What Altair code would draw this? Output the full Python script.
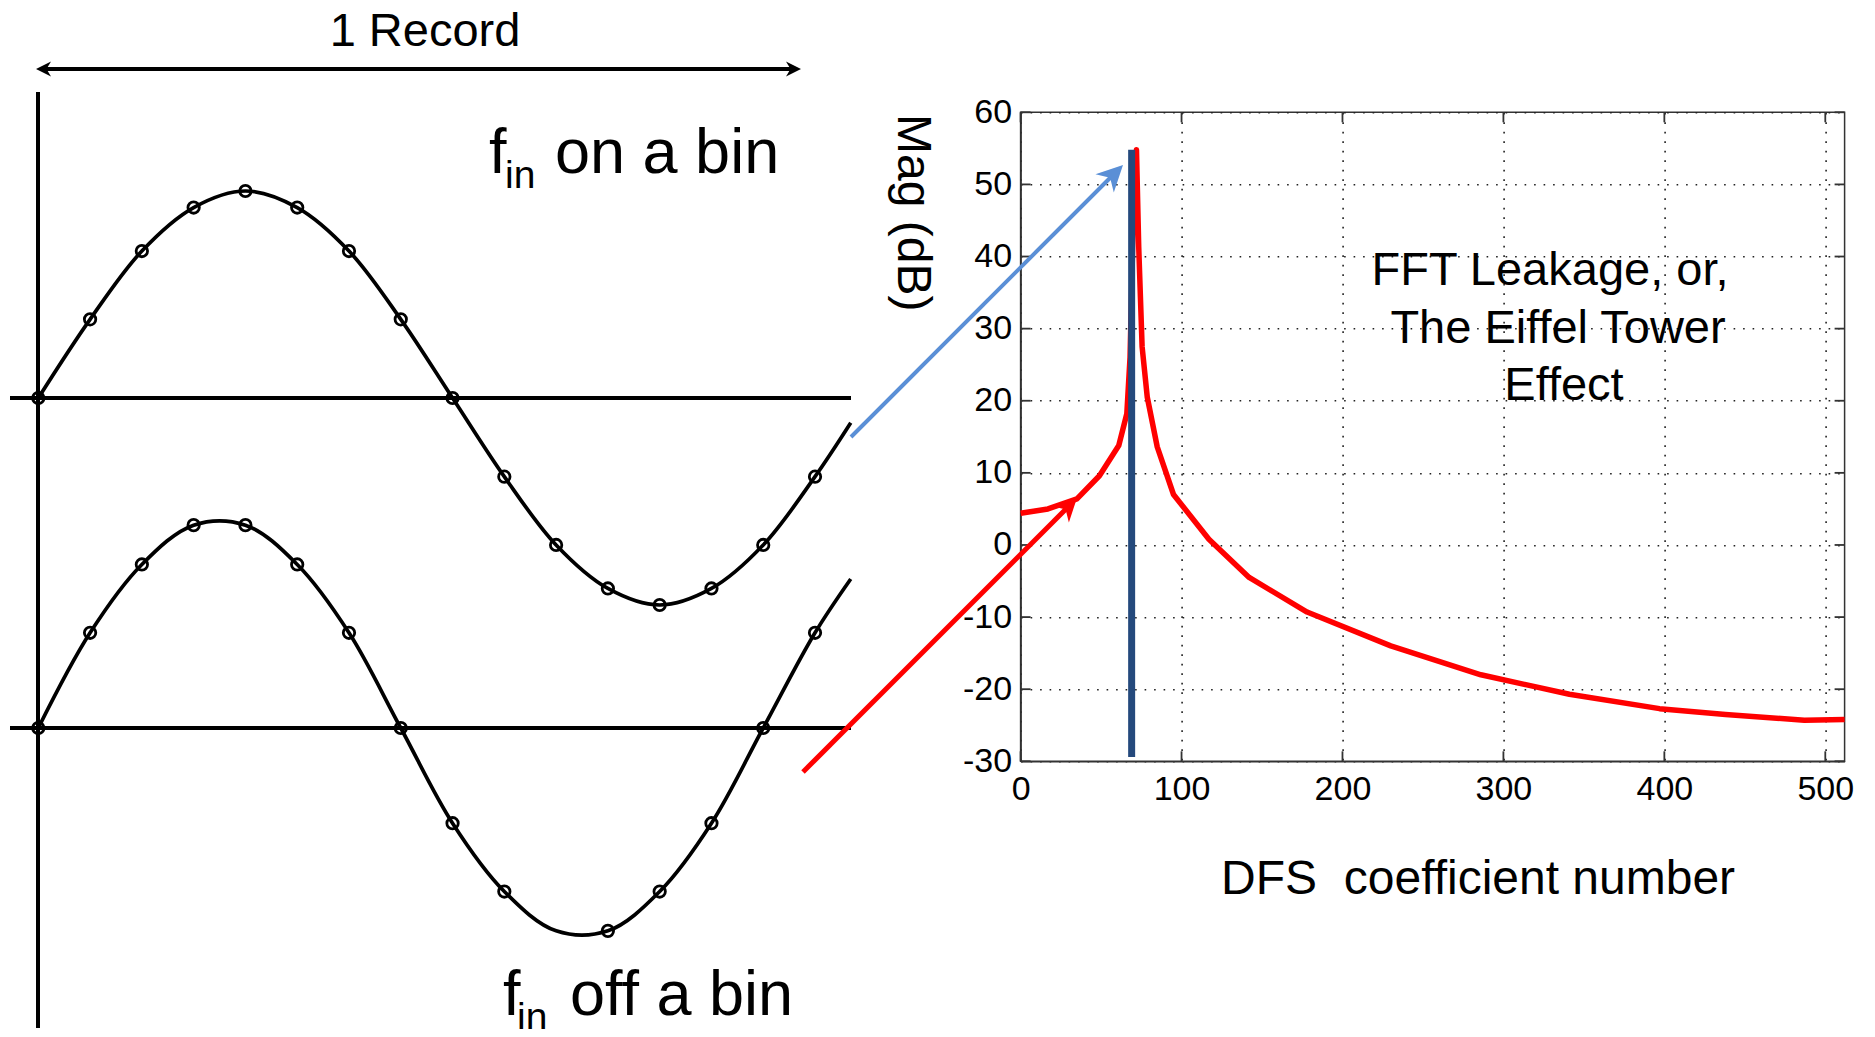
import altair as alt
import pandas as pd

FONT = "Liberation Sans"

# ---------------- right panel: FFT magnitude ----------------
fft_bin = [0, 17, 35, 49, 61, 66, 68, 70, 72, 73.4, 75.5, 78.7, 84.9, 95, 117, 142,
           178, 230, 286, 341, 397, 438, 487, 512]
fft_db = [4.4, 5.0, 6.4, 9.6, 13.8, 18.2, 26, 45, 54.8, 41.3, 27.5, 20.5, 13.6, 7.0, 0.8, -4.5,
          -9.3, -14.0, -18.0, -20.7, -22.7, -23.5, -24.3, -24.2]
bin_line_x = [69]
bin_line_top = [54.8]
bin_line_floor = [-29.4]
x_ticks = [0, 100, 200, 300, 400, 500]
y_ticks = [-30, -20, -10, 0, 10, 20, 30, 40, 50, 60]

# ---------------- left panel: sampled sine waves ----------------
sample_idx = list(range(16))
on_bin = [0, 0.38, 0.71, 0.92, 1.0, 0.92, 0.71, 0.38, 0, -0.38, -0.71, -0.92, -1.0, -0.92, -0.71, -0.38]
off_bin = [0, 0.46, 0.79, 0.98, 0.98, 0.79, 0.46, 0, -0.46, -0.79, -0.98, -0.98, -0.79, -0.46, 0, 0.46]
off_bin_circled = [True] * 10 + [False] + [True] * 5
curve_end_idx = 15.69
on_bin_end = -0.12
off_bin_end = 0.72

# ---------------- annotations (figure pixel units) ----------------
seg_x1 = [38, 10, 10, 44, 851, 803]
seg_y1 = [92, 398, 728, 69, 437, 772]
seg_x2 = [38, 851, 851, 793, 1112, 1068]
seg_y2 = [1028, 398, 728, 69, 176, 507]
seg_color = ["black", "black", "black", "black", "#5a8fd6", "#ff0000"]
seg_width = [4, 4, 4, 4, 4, 5]

head_x = [36, 801, 1123, 1077]
head_y = [69, 69, 165, 498]
head_angle = [270, 90, 45, 45]
head_len = [15, 15, 26, 23]
head_color = ["black", "black", "#5a8fd6", "#ff0000"]

left_text = ["f", "in", "on a bin", "f", "in", "off a bin"]
left_x = [489, 505, 555, 503, 517, 570]
left_y = [173, 188, 173, 1015, 1030, 1015]
left_size = [63, 39, 63, 63, 39, 63]

center_text = ["1 Record", "FFT Leakage, or,", "The Eiffel Tower", "Effect"]
center_x = [425, 1550, 1558, 1564]
center_y = [46, 285, 343, 400]
center_size = [47, 47, 47, 47]

# ---------------- scales ----------------
W, H = 824, 649
X_FFT = alt.Scale(domain=[0, 512], nice=False, zero=False)
Y_FFT = alt.Scale(domain=[-30, 60], nice=False, zero=False)
OV_X = alt.Scale(domain=[0, 1875], range=[-1020.6, 854.4], nice=False, zero=False)
OV_Y = alt.Scale(domain=[0, 1037], range=[-112.3, 924.7], nice=False, zero=False)
SMP_X = alt.Scale(domain=[0, 16], range=[-982.3, -153.8], nice=False, zero=False)
TOP_Y = alt.Scale(domain=[-1, 1], range=[492.7, 78.7], nice=False, zero=False)
BOT_Y = alt.Scale(domain=[-1, 1], range=[822.7, 408.7], nice=False, zero=False)

grid_kw = dict(grid=True, gridDash=[1.6, 7.9], gridColor="#222", gridWidth=1.6,
               ticks=False, domainColor="#333", domainWidth=1.5,
               labelFont=FONT, labelFontSize=34, labelColor="black",
               labelFlush=False, labelOverlap=False, labelExpr="'' + datum.value",
               titleFont=FONT, titleFontSize=48, titleFontWeight="normal",
               titleColor="black", titleBaseline="alphabetic", titleAlign="center")

fft_df = pd.DataFrame({"bin": fft_bin, "db": fft_db})
fft_line = alt.Chart(fft_df).mark_line(color="#ff0000", strokeWidth=5.5, strokeJoin="round").encode(
    x=alt.X("bin:Q", scale=X_FFT,
            axis=alt.Axis(orient="bottom", values=x_ticks, labelPadding=11,
                          title="DFS\u00a0\u00a0coefficient number", titleX=457, titleY=132, **grid_kw)),
    y=alt.Y("db:Q", scale=Y_FFT,
            axis=alt.Axis(orient="left", values=y_ticks, labelPadding=9,
                          title="Mag (dB)", titleAngle=90, titleX=-123, titleY=100, **grid_kw)),
)

bar_df = pd.DataFrame({"bin": bin_line_x, "top": bin_line_top, "floor": bin_line_floor})
bin_bar = alt.Chart(bar_df).mark_rule(color="#24497c", strokeWidth=7).encode(
    x=alt.X("bin:Q", scale=X_FFT, axis=None),
    y=alt.Y("top:Q", scale=Y_FFT, axis=None),
    y2="floor:Q",
)

yt_df = pd.DataFrame({"v": y_ticks})
xt_df = pd.DataFrame({"v": x_ticks})
tick_style = dict(color="#333", strokeWidth=1.8)
tick_left = alt.Chart(yt_df).mark_rule(**tick_style).encode(
    x=alt.value(0), x2=alt.value(10), y=alt.Y("v:Q", scale=Y_FFT, axis=None))
tick_right = alt.Chart(yt_df).mark_rule(**tick_style).encode(
    x=alt.value(W - 10), x2=alt.value(W), y=alt.Y("v:Q", scale=Y_FFT, axis=None))
tick_bottom = alt.Chart(xt_df).mark_rule(**tick_style).encode(
    y=alt.value(H - 10), y2=alt.value(H), x=alt.X("v:Q", scale=X_FFT, axis=None))
tick_top = alt.Chart(xt_df).mark_rule(**tick_style).encode(
    y=alt.value(0), y2=alt.value(10), x=alt.X("v:Q", scale=X_FFT, axis=None))

# sine curves (library spline through the samples)
top_curve_df = pd.DataFrame({"k": sample_idx + [curve_end_idx], "v": on_bin + [on_bin_end]})
bot_curve_df = pd.DataFrame({"k": sample_idx + [curve_end_idx], "v": off_bin + [off_bin_end]})
top_curve = alt.Chart(top_curve_df).mark_line(color="black", strokeWidth=3.7, interpolate="catmull-rom").encode(
    x=alt.X("k:Q", scale=SMP_X, axis=None), y=alt.Y("v:Q", scale=TOP_Y, axis=None))
bot_curve = alt.Chart(bot_curve_df).mark_line(color="black", strokeWidth=3.7, interpolate="catmull-rom").encode(
    x=alt.X("k:Q", scale=SMP_X, axis=None), y=alt.Y("v:Q", scale=BOT_Y, axis=None))

top_pts_df = pd.DataFrame({"k": sample_idx, "v": on_bin})
bot_pts_df = pd.DataFrame({"k": sample_idx, "v": off_bin, "c": off_bin_circled})
bot_pts_df = bot_pts_df[bot_pts_df["c"]]
pt_style = dict(shape="circle", filled=False, size=130, strokeWidth=2.8, color="black", opacity=1)
top_pts = alt.Chart(top_pts_df).mark_point(**pt_style).encode(
    x=alt.X("k:Q", scale=SMP_X, axis=None), y=alt.Y("v:Q", scale=TOP_Y, axis=None))
bot_pts = alt.Chart(bot_pts_df).mark_point(**pt_style).encode(
    x=alt.X("k:Q", scale=SMP_X, axis=None), y=alt.Y("v:Q", scale=BOT_Y, axis=None))

seg_df = pd.DataFrame({"x1": seg_x1, "y1": seg_y1, "x2": seg_x2, "y2": seg_y2,
                       "color": seg_color, "w": seg_width})
segments = alt.Chart(seg_df).mark_rule().encode(
    x=alt.X("x1:Q", scale=OV_X, axis=None), y=alt.Y("y1:Q", scale=OV_Y, axis=None),
    x2="x2:Q", y2="y2:Q",
    color=alt.Color("color:N", scale=None),
    strokeWidth=alt.StrokeWidth("w:Q", scale=None),
)

head_df = pd.DataFrame({"x": head_x, "y": head_y, "angle": head_angle,
                        "size": [L * L for L in head_len], "color": head_color})
heads = alt.Chart(head_df).mark_point(shape="M0,0 L1,2 L0,1.4 L-1,2 Z", filled=True,
                                      opacity=1, strokeWidth=0).encode(
    x=alt.X("x:Q", scale=OV_X, axis=None), y=alt.Y("y:Q", scale=OV_Y, axis=None),
    angle=alt.Angle("angle:Q", scale=None),
    size=alt.Size("size:Q", scale=None),
    color=alt.Color("color:N", scale=None),
)

lt_df = pd.DataFrame({"t": left_text, "x": left_x, "y": left_y, "s": left_size})
left_texts = alt.Chart(lt_df).mark_text(align="left", baseline="alphabetic", font=FONT, color="black").encode(
    x=alt.X("x:Q", scale=OV_X, axis=None), y=alt.Y("y:Q", scale=OV_Y, axis=None),
    text="t:N", size=alt.Size("s:Q", scale=None))

ct_df = pd.DataFrame({"t": center_text, "x": center_x, "y": center_y, "s": center_size})
center_texts = alt.Chart(ct_df).mark_text(align="center", baseline="alphabetic", font=FONT, color="black").encode(
    x=alt.X("x:Q", scale=OV_X, axis=None), y=alt.Y("y:Q", scale=OV_Y, axis=None),
    text="t:N", size=alt.Size("s:Q", scale=None))

chart = alt.layer(
    fft_line, bin_bar, tick_left, tick_right, tick_bottom, tick_top,
    top_curve, bot_curve, top_pts, bot_pts, segments, heads, left_texts, center_texts,
).resolve_scale(x="independent", y="independent").properties(
    width=W, height=H,
    padding={"left": 1012.6, "top": 104.3, "right": 22.4, "bottom": 267.7},
    autosize=alt.AutoSizeParams(type="none"),
    background="white",
).configure_view(stroke="#333", strokeWidth=1.5)

chart.save("out.html", embed_options={"renderer": "svg", "actions": False})
